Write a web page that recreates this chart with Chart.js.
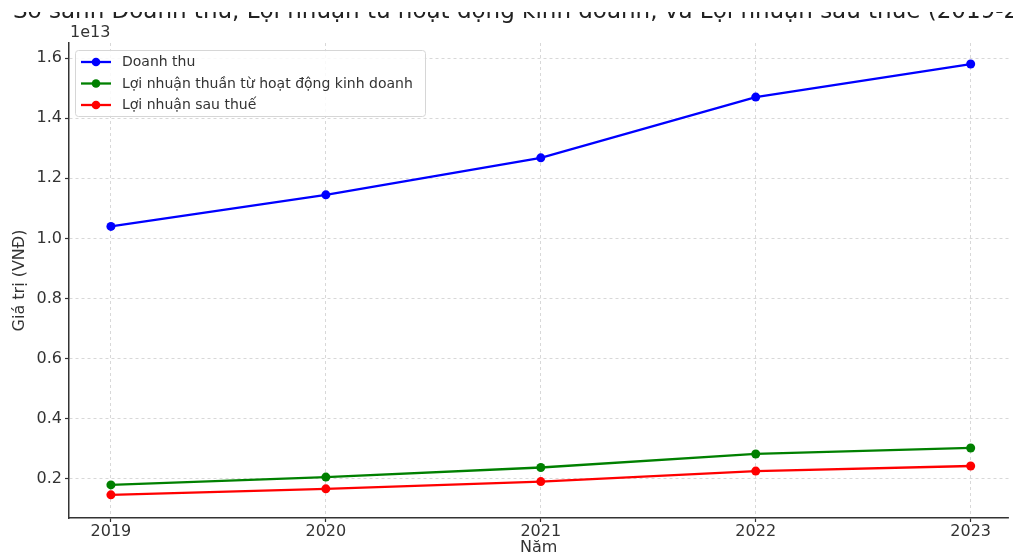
<!DOCTYPE html>
<html>
<head>
<meta charset="utf-8">
<script src="https://cdn.jsdelivr.net/npm/chart.js@4.4.1/dist/chart.umd.min.js"></script>
<style>
html, body { margin: 0; padding: 0; background: #fff; }
#khung { width: 1013px; height: 556px; }
</style>
</head>
<body>
<div id="khung"><canvas id="bieu-do"></canvas></div>
<script>
// du lieu doc tu hinh (VND)
const nam = [2019, 2020, 2021, 2022, 2023];
const doanhThu = [1.040e13, 1.145e13, 1.268e13, 1.470e13, 1.580e13];
const loiNhuanThuan = [0.180e13, 0.206e13, 0.238e13, 0.283e13, 0.303e13];
const loiNhuanSauThue = [0.147e13, 0.167e13, 0.191e13, 0.226e13, 0.243e13];
const tenSeries = ["Doanh thu", "Lợi nhuận thuần từ hoạt động kinh doanh", "Lợi nhuận sau thuế"];
const mauSeries = ["#0000ff", "#008000", "#ff0000"];
const yTick = [0.2e13, 0.4e13, 0.6e13, 0.8e13, 1.0e13, 1.2e13, 1.4e13, 1.6e13];
const tieuDe = "So sánh Doanh thu, Lợi nhuận từ hoạt động kinh doanh, và Lợi nhuận sau thuế (2019-2023)";

Chart.defaults.font.family = '"DejaVu Sans", sans-serif';
Chart.defaults.color = '#333';

const ghep = (vals) => vals.map((v, i) => ({ x: nam[i], y: v }));
const chuoi = [doanhThu, loiNhuanThuan, loiNhuanSauThue];

const veThem = {
    id: 'veThem',
    afterDraw(chart) {
        const ctx = chart.ctx;
        const area = chart.chartArea;

        // tieu de bi cat phia tren
        ctx.save();
        ctx.beginPath();
        ctx.rect(0, 12, chart.width, 20);
        ctx.clip();
        ctx.font = '23px "DejaVu Sans"';
        ctx.fillStyle = '#222';
        ctx.textAlign = 'left';
        ctx.textBaseline = 'alphabetic';
        ctx.fillText(tieuDe, 13, 17.5);
        ctx.restore();

        // he so mu
        ctx.save();
        ctx.font = '16px "DejaVu Sans"';
        ctx.fillStyle = '#333';
        ctx.textAlign = 'left';
        ctx.textBaseline = 'middle';
        ctx.fillText('1e13', area.left + 1, 33);
        ctx.restore();

        // chu thich
        ctx.save();
        ctx.fillStyle = 'rgba(255,255,255,0.85)';
        ctx.strokeStyle = '#d6d6d6';
        ctx.lineWidth = 1;
        ctx.beginPath();
        ctx.roundRect(75.5, 50.5, 350, 66, 3);
        ctx.fill();
        ctx.stroke();
        ctx.font = '14px "DejaVu Sans"';
        ctx.textAlign = 'left';
        ctx.textBaseline = 'middle';
        chart.data.datasets.forEach((ds, i) => {
            const y = 62 + i * 21.5;
            ctx.strokeStyle = ds.borderColor;
            ctx.lineWidth = 2.3;
            ctx.beginPath();
            ctx.moveTo(81, y);
            ctx.lineTo(111, y);
            ctx.stroke();
            ctx.fillStyle = ds.borderColor;
            ctx.beginPath();
            ctx.arc(96, y, 4.3, 0, Math.PI * 2);
            ctx.fill();
            ctx.fillStyle = '#333';
            ctx.fillText(ds.label, 122, y + 0.5);
        });
        ctx.restore();
    }
};

const ctx = document.getElementById('bieu-do').getContext('2d');
const chart = new Chart(ctx, {
    type: 'line',
    data: {
        datasets: chuoi.map((vals, i) => ({
            label: tenSeries[i],
            data: ghep(vals),
            borderColor: mauSeries[i],
            backgroundColor: mauSeries[i],
            borderWidth: 2.3,
            pointRadius: 4.5,
            pointBorderWidth: 0,
            tension: 0
        }))
    },
    options: {
        responsive: true,
        maintainAspectRatio: false,
        animation: false,
        layout: { padding: { top: 43, right: 2, left: 0, bottom: 0 } },
        plugins: {
            legend: { display: false },
            tooltip: { enabled: false }
        },
        scales: {
            x: {
                type: 'linear',
                min: 2018.805,
                max: 2023.176,
                afterFit: (s) => { s.height = 38; },
                afterBuildTicks: (s) => { s.ticks = nam.map(v => ({ value: v })); },
                ticks: {
                    padding: 0,
                    color: '#333',
                    font: { size: 16 },
                    callback: (v) => String(v)
                },
                grid: {
                    color: '#cfcfcf',
                    lineWidth: 0.8,
                    tickLength: 4,
                    tickColor: '#333',
                    tickWidth: 1.2
                },
                border: { display: true, color: '#333', width: 1.5, dash: [3, 3] },
                title: {
                    display: true,
                    text: 'Năm',
                    color: '#333',
                    font: { size: 16, lineHeight: 1 },
                    padding: 0
                }
            },
            y: {
                min: 0.07e13,
                max: 1.65e13,
                afterFit: (s) => { s.width = 69; },
                afterBuildTicks: (s) => { s.ticks = yTick.map(v => ({ value: v })); },
                ticks: {
                    padding: 3,
                    color: '#333',
                    font: { size: 16 },
                    callback: (v) => (v / 1e13).toFixed(1)
                },
                grid: {
                    color: '#cfcfcf',
                    lineWidth: 0.8,
                    tickLength: 4,
                    tickColor: '#333',
                    tickWidth: 1.2
                },
                border: { display: true, color: '#333', width: 1.5, dash: [3, 3] },
                title: {
                    display: true,
                    text: 'Giá trị (VNĐ)',
                    color: '#333',
                    font: { size: 16 },
                    padding: { top: 10, bottom: 0 }
                }
            }
        }
    },
    plugins: [veThem]
});
</script>
</body>
</html>
